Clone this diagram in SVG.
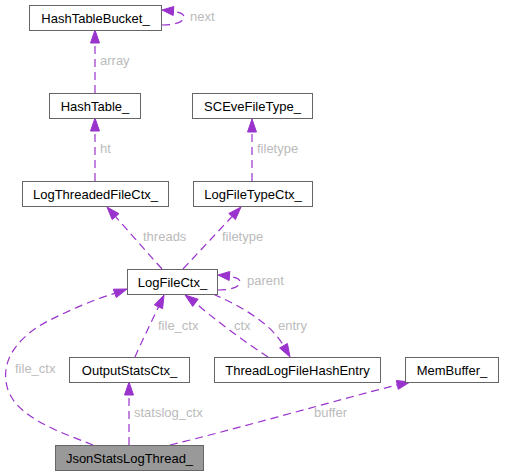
<svg xmlns="http://www.w3.org/2000/svg" width="505" height="476" viewBox="0 0 505 476">
<style>
.n rect{fill:#ffffff;stroke:#666666;stroke-width:1}
.n.h rect{fill:#999999}
.n text{font-family:"Liberation Sans",Arial,sans-serif;font-size:13px;fill:#000000;text-anchor:middle}
.e path{fill:none;stroke:#9a32cd;stroke-width:1.2;stroke-dasharray:8,5}
.e polygon{fill:#9a32cd;stroke:#9a32cd;stroke-width:1}
.e text{font-family:"Liberation Sans",Arial,sans-serif;font-size:13px;fill:#bbbbbb}
</style>
<rect width="505" height="476" fill="#ffffff"/>
<g id="edges" class="e">
<!-- array -->
<path d="M95,93 L95,43"/>
<polygon points="95,30 99.5,43 90.5,43"/>
<text x="100" y="65">array</text>
<!-- next -->
<path d="M162,25 C175,25 184,22 184,17 C184,14 180,12.5 174.5,11.5"/>
<polygon points="162,10 173.8,6.5 173.2,15.5"/>
<text x="190" y="21">next</text>
<!-- ht -->
<path d="M95,181 L95,131"/>
<polygon points="95,118 99.5,131 90.5,131"/>
<text x="100" y="153">ht</text>
<!-- filetype top -->
<path d="M252,181 L252,132"/>
<polygon points="252,119 256.5,132 247.5,132"/>
<text x="257" y="153">filetype</text>
<!-- threads -->
<path d="M162,269 L115.6,216.7"/>
<polygon points="107,207 119,213.7 112.2,219.6"/>
<text x="143" y="241">threads</text>
<!-- filetype mid -->
<path d="M183,269 L232.1,216.5"/>
<polygon points="241,207 235.4,219.6 228.8,213.5"/>
<text x="222" y="241">filetype</text>
<!-- parent -->
<path d="M218,290 C231,290 240,287 240,282 C240,279 236,277.5 230.5,276.5"/>
<polygon points="218,275 229.8,271.5 229.2,280.5"/>
<text x="247" y="285">parent</text>
<!-- file_ctx (OutputStatsCtx_) -->
<path d="M135,357 C140,345 150,325 158.5,306.8"/>
<polygon points="164,295 162.6,308.7 154.4,304.9"/>
<text x="158" y="330">file_ctx</text>
<!-- ctx -->
<path d="M268,357 C245,342 215,320 195.4,302.8"/>
<polygon points="185,295 198.1,299.2 192.7,306.4"/>
<text x="234" y="330">ctx</text>
<!-- entry -->
<path d="M213,294 C245,308 272,325 283.5,345.7"/>
<polygon points="290,357 279.6,348 287.4,343.5"/>
<text x="278" y="330">entry</text>
<!-- file_ctx (JsonStatsLogThread_) -->
<path d="M93,445 C60,432 18,418 8,390 C-2,360 20,335 50,320 C70,310 95,299 114.8,293.4"/>
<polygon points="127,289 116.3,297.6 113.3,289.2"/>
<text x="15" y="373">file_ctx</text>
<!-- statslog_ctx -->
<path d="M129,445 L129,395"/>
<polygon points="129,382 133.5,395 124.5,395"/>
<text x="134" y="417">statslog_ctx</text>
<!-- buffer -->
<path d="M170,445 C240,428 330,402 397.3,384.9"/>
<polygon points="410,382 398.3,389.3 396.3,380.5"/>
<text x="314" y="417">buffer</text>
</g>
<g id="HashTableBucket_" class="n"><rect x="29.5" y="5.5" width="132" height="25"/><text x="95.5" y="22.5">HashTableBucket_</text></g>
<g id="HashTable_" class="n"><rect x="49.5" y="93.5" width="91" height="25"/><text x="95" y="110.5">HashTable_</text></g>
<g id="SCEveFileType_" class="n"><rect x="192.5" y="93.5" width="120" height="25"/><text x="252.5" y="110.5">SCEveFileType_</text></g>
<g id="LogThreadedFileCtx_" class="n"><rect x="22.5" y="181.5" width="146" height="25"/><text x="95.5" y="198.5">LogThreadedFileCtx_</text></g>
<g id="LogFileTypeCtx_" class="n"><rect x="193.5" y="181.5" width="119" height="25"/><text x="253" y="198.5">LogFileTypeCtx_</text></g>
<g id="LogFileCtx_" class="n"><rect x="127.5" y="269.5" width="90" height="25"/><text x="172.5" y="286.5">LogFileCtx_</text></g>
<g id="OutputStatsCtx_" class="n"><rect x="69.5" y="357.5" width="120" height="25"/><text x="129.5" y="374.5">OutputStatsCtx_</text></g>
<g id="ThreadLogFileHashEntry" class="n"><rect x="214.5" y="357.5" width="166" height="25"/><text x="297.5" y="374.5">ThreadLogFileHashEntry</text></g>
<g id="MemBuffer_" class="n"><rect x="405.5" y="357.5" width="93" height="25"/><text x="452" y="374.5">MemBuffer_</text></g>
<g id="JsonStatsLogThread_" class="n h"><rect x="55.5" y="445.5" width="148" height="25"/><text x="129.5" y="462.5">JsonStatsLogThread_</text></g>
</svg>
